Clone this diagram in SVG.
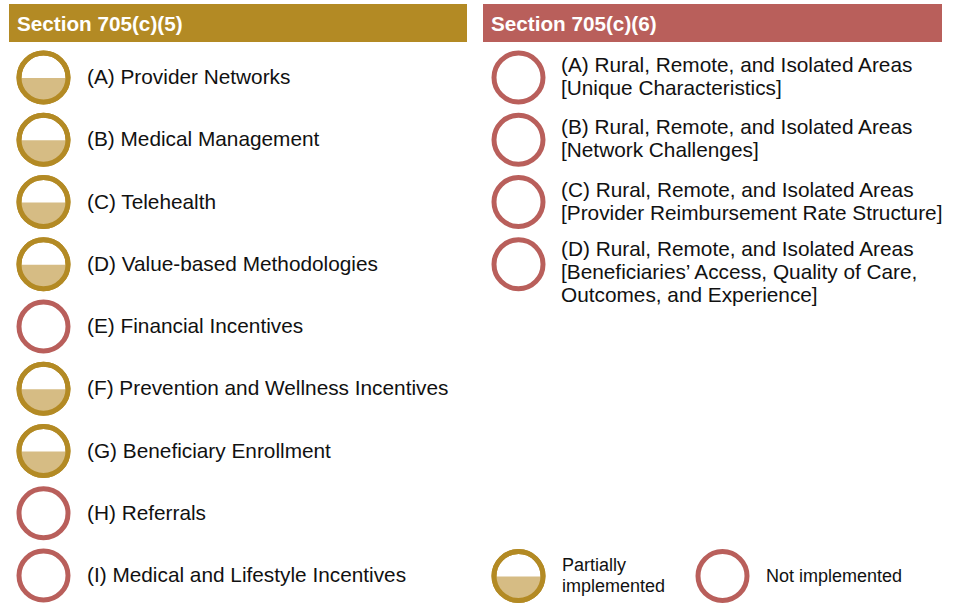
<svg xmlns="http://www.w3.org/2000/svg" width="956" height="603" viewBox="0 0 956 603">
<defs>
<style>
.hdr{font-family:"Liberation Sans",Arial,sans-serif;font-weight:bold;font-size:20.7px;fill:#ffffff}
.lbl{font-family:"Liberation Sans",Arial,sans-serif;font-size:20.8px;fill:#111111}
.leg{font-family:"Liberation Sans",Arial,sans-serif;font-size:18px;fill:#111111}
.ring-g{fill:#ffffff;stroke:#B38A24;stroke-width:5}
.ring-r{fill:#ffffff;stroke:#B95F5B;stroke-width:5}
.half{fill:#D6BC84}
</style>
<g id="partial">
<circle class="ring-g" cx="0" cy="0" r="24.5"/>
<path class="half" d="M-24.5,0.5 A24.5,24.5 0 0 0 24.5,0.5 Z"/>
<circle cx="0" cy="0" r="24.5" fill="none" stroke="#B38A24" stroke-width="5"/>
</g>
<g id="none">
<circle class="ring-r" cx="0" cy="0" r="24.5"/>
</g>
</defs>
<rect width="956" height="603" fill="#ffffff"/>
<g id="header-left">
<rect x="9" y="4" width="458" height="38" fill="#B38A24"/>
<text class="hdr" x="17" y="31">Section 705(c)(5)</text>
</g>
<g id="header-right">
<rect x="483" y="4" width="459" height="38" fill="#B95F5B"/>
<text class="hdr" x="491" y="31">Section 705(c)(6)</text>
</g>
<g id="c5-A"><use href="#partial" x="43.5" y="77.5"/><text class="lbl" x="87" y="84">(A) Provider Networks</text></g>
<g id="c5-B"><use href="#partial" x="43.5" y="139.75"/><text class="lbl" x="87" y="146.25">(B) Medical Management</text></g>
<g id="c5-C"><use href="#partial" x="43.5" y="202"/><text class="lbl" x="87" y="208.5">(C) Telehealth</text></g>
<g id="c5-D"><use href="#partial" x="43.5" y="264.25"/><text class="lbl" x="87" y="270.75">(D) Value-based Methodologies</text></g>
<g id="c5-E"><use href="#none" x="43.5" y="326.5"/><text class="lbl" x="87" y="333">(E) Financial Incentives</text></g>
<g id="c5-F"><use href="#partial" x="43.5" y="388.75"/><text class="lbl" x="87" y="395.25">(F) Prevention and Wellness Incentives</text></g>
<g id="c5-G"><use href="#partial" x="43.5" y="451"/><text class="lbl" x="87" y="457.5">(G) Beneficiary Enrollment</text></g>
<g id="c5-H"><use href="#none" x="43.5" y="513.25"/><text class="lbl" x="87" y="519.75">(H) Referrals</text></g>
<g id="c5-I"><use href="#none" x="43.5" y="575.5"/><text class="lbl" x="87" y="582">(I) Medical and Lifestyle Incentives</text></g>
<g id="c6-A"><use href="#none" x="518.5" y="77.5"/><text class="lbl" x="561"><tspan x="561" y="72">(A) Rural, Remote, and Isolated Areas</tspan><tspan x="561" y="95">[Unique Characteristics]</tspan></text></g>
<g id="c6-B"><use href="#none" x="518.5" y="139.75"/><text class="lbl" x="561"><tspan x="561" y="134.25">(B) Rural, Remote, and Isolated Areas</tspan><tspan x="561" y="157.25">[Network Challenges]</tspan></text></g>
<g id="c6-C"><use href="#none" x="518.5" y="202"/><text class="lbl" x="561"><tspan x="561" y="196.5">(C) Rural, Remote, and Isolated Areas</tspan><tspan x="561" y="219.5">[Provider Reimbursement Rate Structure]</tspan></text></g>
<g id="c6-D"><use href="#none" x="518.5" y="264.25"/><text class="lbl" x="561"><tspan x="561" y="256">(D) Rural, Remote, and Isolated Areas</tspan><tspan x="561" y="279">[Beneficiaries’ Access, Quality of Care,</tspan><tspan x="561" y="302">Outcomes, and Experience]</tspan></text></g>
<g id="legend-partial"><use href="#partial" x="518.5" y="576"/><text class="leg"><tspan x="562" y="571">Partially</tspan><tspan x="562" y="592">implemented</tspan></text></g>
<g id="legend-none"><use href="#none" x="722.5" y="576"/><text class="leg" x="766" y="582">Not implemented</text></g>
<g id="connectors"/>
</svg>
